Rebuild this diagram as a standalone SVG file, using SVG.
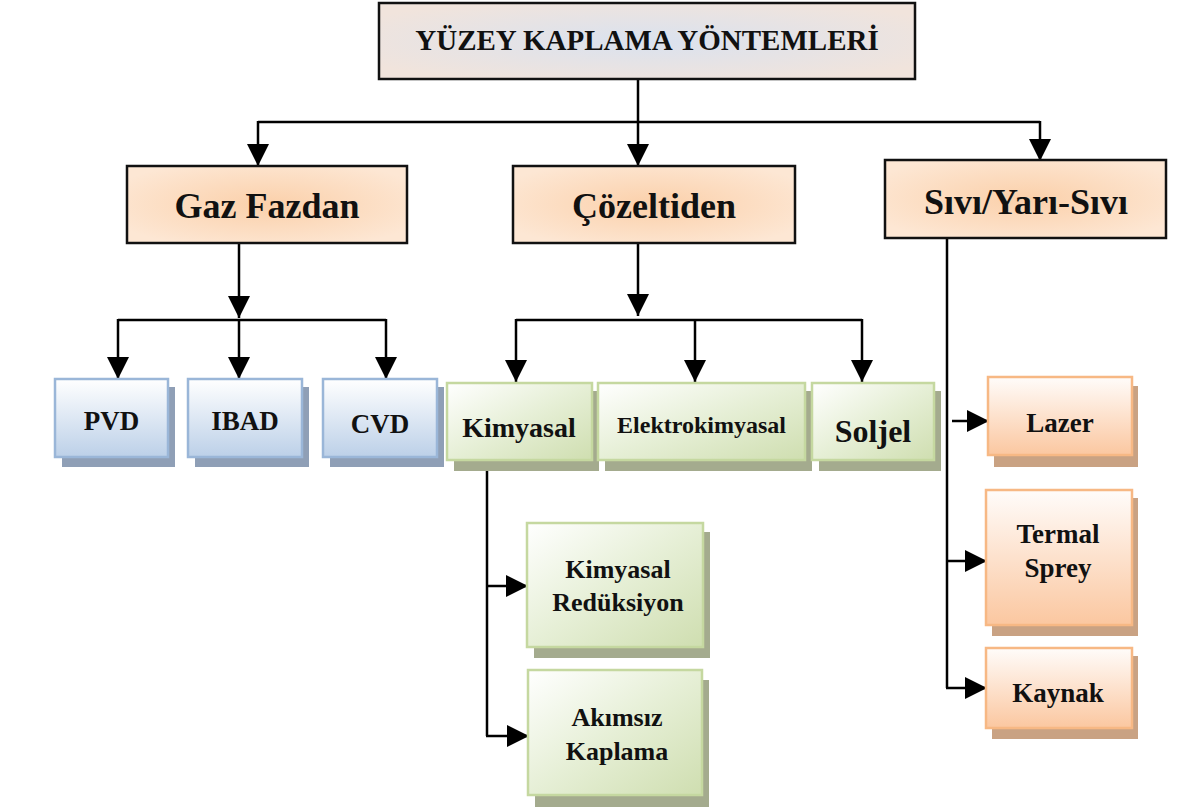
<svg xmlns="http://www.w3.org/2000/svg" width="1177" height="812" viewBox="0 0 1177 812">
<defs>
<radialGradient id="gTitle" cx="0.5" cy="0.5" r="0.6">
<stop offset="0" stop-color="#dae2ef"/>
<stop offset="1" stop-color="#f1e4dc"/>
</radialGradient>
<radialGradient id="gCat" cx="0.5" cy="0.5" r="0.6">
<stop offset="0" stop-color="#fbd0aa"/>
<stop offset="1" stop-color="#fde7d4"/>
</radialGradient>
<linearGradient id="gBlue" x1="0" y1="0" x2="0" y2="1">
<stop offset="0" stop-color="#ffffff"/>
<stop offset="1" stop-color="#bcd0e8"/>
</linearGradient>
<linearGradient id="gGreen" x1="0" y1="0" x2="1" y2="1">
<stop offset="0" stop-color="#ffffff"/>
<stop offset="0.5" stop-color="#e6efd6"/>
<stop offset="1" stop-color="#cfdeb0"/>
</linearGradient>
<linearGradient id="gOrange" x1="0" y1="0" x2="0" y2="1">
<stop offset="0" stop-color="#fffcfa"/>
<stop offset="1" stop-color="#fbc7a0"/>
</linearGradient>
<marker id="arr" markerUnits="userSpaceOnUse" markerWidth="22" markerHeight="22" viewBox="0 0 20 20" refX="20" refY="10" orient="auto">
<path d="M0,0 L20,10 L0,20 Z" fill="#000"/>
</marker>
</defs>
<style>
text{font-family:"Liberation Serif","Times New Roman",serif;font-weight:bold;fill:#111;text-anchor:middle}
.title{fill:url(#gTitle);stroke:#111;stroke-width:2.5}
.cat{fill:url(#gCat);stroke:#111;stroke-width:2.5}
.blue{fill:url(#gBlue);stroke:#9ab6d8;stroke-width:2.5}
.sb{fill:#8f9fb6}
.green{fill:url(#gGreen);stroke:#c5d8a0;stroke-width:2.5}
.sg{fill:#a4ab8e}
.orange{fill:url(#gOrange);stroke:#f7b884;stroke-width:2.5}
.so{fill:#c9a283}
.ln{fill:none;stroke:#000;stroke-width:2.5}
.ar{fill:none;stroke:#000;stroke-width:2.5;marker-end:url(#arr)}
</style>

<g id="connectors">
<path class="ln" d="M638,79 V122 M258,122 H1040"/>
<path class="ar" d="M258,121 V166"/>
<path class="ar" d="M638,121 V166"/>
<path class="ar" d="M1040,121 V161"/>
<path class="ar" d="M239,243 V318"/>
<path class="ln" d="M118,320 H386"/>
<path class="ar" d="M118,319 V379"/>
<path class="ar" d="M239,319 V379"/>
<path class="ar" d="M386,319 V379"/>
<path class="ar" d="M638,243 V316"/>
<path class="ln" d="M516,320 H862"/>
<path class="ar" d="M516,319 V382"/>
<path class="ar" d="M695,319 V382"/>
<path class="ar" d="M862,319 V382"/>
<path class="ln" d="M487,460 V736"/>
<path class="ar" d="M486,586 H528"/>
<path class="ar" d="M486,736 H529"/>
<path class="ln" d="M947,238 V688"/>
<path class="ar" d="M952,421 H989"/>
<path class="ar" d="M946,561 H987"/>
<path class="ar" d="M946,688 H987"/>
</g>

<g id="title">
<rect class="title" x="379" y="3" width="536" height="76"/>
<text x="647" y="50" font-size="29">YÜZEY KAPLAMA YÖNTEMLERİ</text>
</g>

<g id="gaz-fazdan">
<rect class="cat" x="127" y="166" width="280" height="77"/>
<text x="267" y="218" font-size="36">Gaz Fazdan</text>
</g>
<g id="cozeltiden">
<rect class="cat" x="513" y="166" width="282" height="77"/>
<text x="654" y="218" font-size="36">Çözeltiden</text>
</g>
<g id="sivi">
<rect class="cat" x="885" y="160" width="281" height="78"/>
<text x="1026" y="214" font-size="36">Sıvı/Yarı-Sıvı</text>
</g>

<g id="pvd">
<rect class="sb" x="62" y="387" width="113" height="80"/>
<rect class="blue" x="55" y="379" width="113" height="78"/>
<text x="111.5" y="430" font-size="27">PVD</text>
</g>
<g id="ibad">
<rect class="sb" x="195" y="387" width="114" height="80"/>
<rect class="blue" x="188" y="379" width="114" height="78"/>
<text x="245" y="430" font-size="27">IBAD</text>
</g>
<g id="cvd">
<rect class="sb" x="330" y="387" width="114" height="80"/>
<rect class="blue" x="323" y="379" width="114" height="78"/>
<text x="380" y="433" font-size="27">CVD</text>
</g>

<g id="kimyasal">
<rect class="sg" x="454" y="391" width="145" height="80"/>
<rect class="green" x="447" y="383" width="145" height="77"/>
<text x="519" y="437" font-size="28">Kimyasal</text>
</g>
<g id="elektrokimyasal">
<rect class="sg" x="605" y="391" width="207" height="80"/>
<rect class="green" x="598" y="383" width="207" height="77"/>
<text x="701.5" y="433" font-size="24">Elektrokimyasal</text>
</g>
<g id="soljel">
<rect class="sg" x="819" y="391" width="122" height="80"/>
<rect class="green" x="812" y="383" width="122" height="77"/>
<text x="873" y="442" font-size="32">Soljel</text>
</g>

<g id="kimyasal-reduksiyon">
<rect class="sg" x="534" y="532" width="176" height="126"/>
<rect class="green" x="527" y="523" width="176" height="124"/>
<text x="618" y="578" font-size="26">Kimyasal</text>
<text x="618" y="611" font-size="26">Redüksiyon</text>
</g>
<g id="akimsiz-kaplama">
<rect class="sg" x="535" y="680" width="174" height="127"/>
<rect class="green" x="528" y="670" width="174" height="125"/>
<text x="617" y="726" font-size="26">Akımsız</text>
<text x="617" y="760" font-size="26">Kaplama</text>
</g>

<g id="lazer">
<rect class="so" x="994" y="386" width="144" height="81"/>
<rect class="orange" x="988" y="377" width="144" height="78"/>
<text x="1060" y="432" font-size="27">Lazer</text>
</g>
<g id="termal-sprey">
<rect class="so" x="992" y="498" width="146" height="138"/>
<rect class="orange" x="986" y="490" width="146" height="135"/>
<text x="1058" y="543" font-size="27">Termal</text>
<text x="1058" y="577" font-size="27">Sprey</text>
</g>
<g id="kaynak">
<rect class="so" x="992" y="656" width="146" height="83"/>
<rect class="orange" x="986" y="648" width="146" height="80"/>
<text x="1058" y="702" font-size="27">Kaynak</text>
</g>
</svg>
